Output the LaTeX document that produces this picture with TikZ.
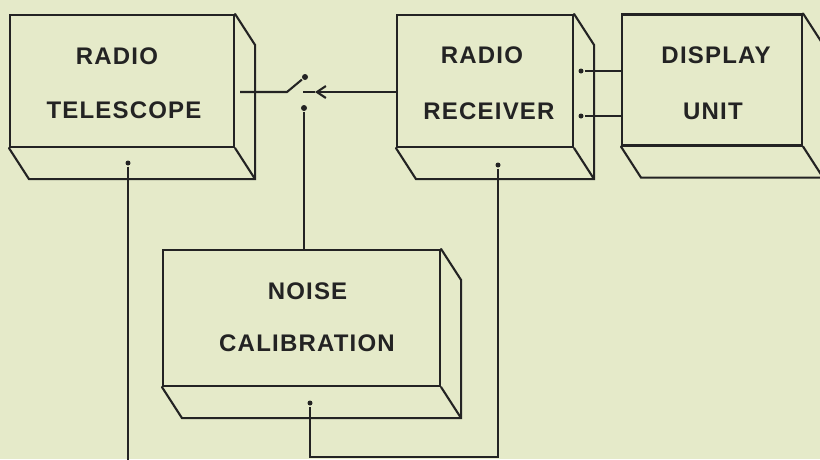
\documentclass[tikz,border=0pt]{standalone}
\usepackage{fontspec}
\newfontfamily\lettering{Liberation Sans Bold}[LetterSpace=5]
\usetikzlibrary{arrows.meta,calc}
\definecolor{bg}{HTML}{E5EAC9}
\definecolor{ink}{HTML}{232323}
\newcommand\boxsides[1]{%
  \draw[line cap=round] (#1.south west) -- ++(20,31) -- ($(#1.south east)+(20,31)$)
     -- ($(#1.north east)+(20,31)$) -- (#1.north east);
  \draw[line cap=round] (#1.south east) -- ++(20,31);}
\begin{document}
\begin{tikzpicture}[x=1pt,y=-1pt,line width=2.1pt,ink,line join=miter,
  box/.style={draw,rectangle,inner sep=0pt},
  lbl/.style={font=\lettering\fontsize{24}{28}\selectfont,inner sep=0pt,text=ink},
  dot/.style={circle,fill=ink,inner sep=0pt,minimum size=6pt}]
\path[use as bounding box,fill=bg] (0,0) rectangle (820,459);
\clip (0,0) rectangle (820,459);

% boxes
\node[box,minimum width=224pt,minimum height=132pt] (tel) at (122,81) {};
\node[box,minimum width=176pt,minimum height=132pt] (rec) at (485,81) {};
\node[box,minimum width=180pt,minimum height=131pt] (disp) at (712,80) {};
\node[box,minimum width=277pt,minimum height=136pt] (noise) at (301.5,318) {};
\boxsides{tel}
\boxsides{rec}
\boxsides{disp}
\boxsides{noise}

% labels
\node[lbl] (telA) at (117,56) {RADIO};
\node[lbl] (telB) at (124,110) {TELESCOPE};
\node[lbl] (recA) at (482,55) {RADIO};
\node[lbl] (recB) at (489,111) {RECEIVER};
\node[lbl] (dispA) at (716,55) {DISPLAY};
\node[lbl] (dispB) at (713,111) {UNIT};
\node[lbl] (noiseA) at (307.5,291) {NOISE};
\node[lbl] (noiseB) at (307,343) {CALIBRATION};

% switch
\coordinate (swin) at (240,92);
\coordinate (swknee) at (287,92);
\node[dot] (swup) at (305,77) {};
\node[dot] (swlow) at (304,108) {};
\draw (swin) -- (swknee) -- (swup);
\draw (swlow) -- (swlow |- noise.north);
\coordinate (arrtip) at (315,92);
\coordinate (arrstub) at (303,92);
\draw[-{Straight Barb[length=9pt,width=12pt]}] (rec.west |- swin) -- (arrtip);
\draw (arrtip) -- (arrstub);

% receiver - display
\node[dot,minimum size=5pt] (rd1) at (581,71) {};
\node[dot,minimum size=5pt] (rd2) at (581,116) {};
\draw (disp.west |- rd1) -- (rd1);
\draw (disp.west |- rd2) -- (rd2);

% bottom connections
\node[dot,minimum size=5pt] (telout) at (128,163) {};
\coordinate (telend) at (128,470);
\draw (telout) -- (telend);
\node[dot,minimum size=5pt] (recout) at (498,165) {};
\node[dot,minimum size=5pt] (noiseout) at (310,403) {};
\coordinate (busR) at (498,457);
\coordinate (busM) at (310,457);
\draw (recout) -- (busR) -- (busM) -- (noiseout);
\end{tikzpicture}
\end{document}
